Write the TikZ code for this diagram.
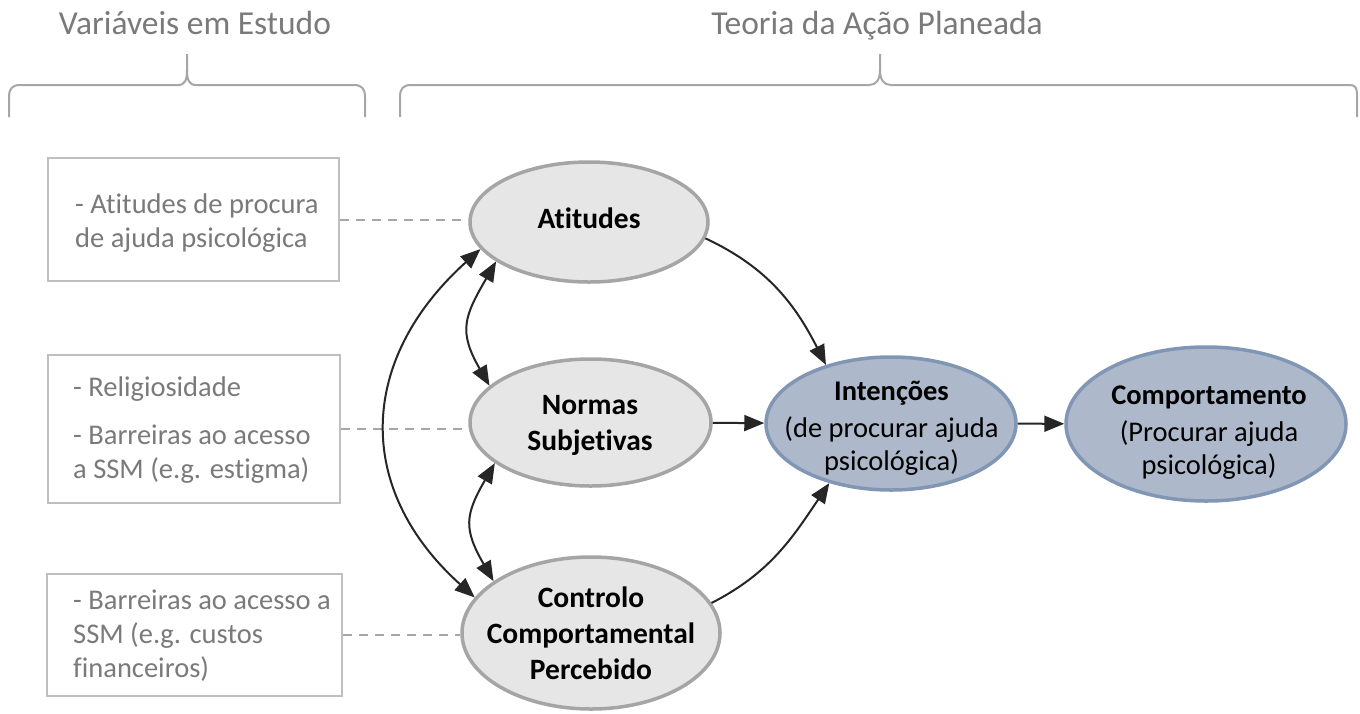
\documentclass[tikz,border=0pt]{standalone}
\usepackage{fontspec}
\setmainfont{Carlito}[Ligatures={NoCommon,NoContextual}]
\usetikzlibrary{shapes.geometric,arrows.meta}
\definecolor{txtgray}{HTML}{7A7A7A}
\definecolor{bracegray}{HTML}{A6A6A6}
\definecolor{boxgray}{HTML}{BFBFBF}
\definecolor{ellfill}{HTML}{E6E6E6}
\definecolor{elldraw}{HTML}{A5A5A5}
\definecolor{bluefill}{HTML}{ADB9CA}
\definecolor{bluedraw}{HTML}{8196B4}
\definecolor{arrowcol}{HTML}{262626}
\begin{document}
\begin{tikzpicture}[x=1pt,y=-1pt,
  headtext/.style={text=txtgray, font=\fontsize{33.5}{40}\selectfont, inner sep=0pt},
  bracepath/.style={draw=bracegray, line width=2pt},
  varbox/.style={draw=boxgray, line width=2.5pt, rectangle, inner sep=0pt},
  boxtext/.style={text=txtgray, font=\fontsize{28.5}{34}\selectfont, align=left, inner sep=0pt},
  grayell/.style={ellipse, draw=elldraw, fill=ellfill, line width=3.5pt, inner sep=0pt},
  blueell/.style={ellipse, draw=bluedraw, fill=bluefill, line width=3.5pt, inner sep=0pt},
  elltext/.style={font=\fontsize{29.5}{36}\selectfont\bfseries, align=center, inner sep=0pt},
  bluetext/.style={font=\fontsize{28.5}{33}\selectfont, align=center, inner sep=0pt},
  dashlink/.style={draw=bracegray, line width=2pt, dash pattern=on 9pt off 7pt},
  arrowlink/.style={draw=arrowcol, line width=2pt, -{Triangle[length=20pt,width=16pt]}},
  bothlink/.style={draw=arrowcol, line width=2pt, {Triangle[length=20pt,width=16pt]}-{Triangle[length=20pt,width=16pt]}}
]
\useasboundingbox (0,0) rectangle (1360,713);
\fill[white] (0,0) rectangle (1360,713);

% headings
\node[headtext, anchor=base] (hvar) at (195,34) {Variáveis em Estudo};
\node[headtext, anchor=base] (htap) at (877,34) {Teoria da Ação Planeada};

% braces
\draw[bracepath] (9,117) -- (9,97) .. controls (9,89) and (12,85) .. (20,85)
  -- (178,85) .. controls (185,85) and (187,80) .. (187,70) -- (187,54);
\draw[bracepath] (187,70) .. controls (187,80) and (189,85) .. (196,85)
  -- (354,85) .. controls (362,85) and (365,89) .. (365,97) -- (365,117);
\draw[bracepath] (400,117) -- (400,97) .. controls (400,89) and (403,85) .. (411,85)
  -- (869,85) .. controls (876,85) and (880,80) .. (880,70) -- (880,54);
\draw[bracepath] (880,70) .. controls (880,80) and (884,85) .. (891,85)
  -- (1350,85) .. controls (1355,85) and (1357,88) .. (1357,94) -- (1357,117);

% boxes
\node[varbox, minimum width=291pt, minimum height=123pt] (b1) at (193.5,219.5) {};
\node[varbox, minimum width=292pt, minimum height=148pt] (b2) at (194,429) {};
\node[varbox, minimum width=295pt, minimum height=122pt] (b3) at (194.5,635) {};
\node[boxtext, anchor=west] (b1t) at (75,223) {- Atitudes de procura\\de ajuda psicológica};
\node[boxtext, anchor=west] (b2t) at (73,430) {- Religiosidade\\[14pt]- Barreiras ao acesso\\a SSM (e.g. estigma)};
\node[boxtext, anchor=west] (b3t) at (73,636) {- Barreiras ao acesso a\\SSM (e.g. custos\\financeiros)};

% ellipses
\node[grayell, minimum width=238pt, minimum height=120pt] (att) at (589,222) {};
\node[grayell, minimum width=241pt, minimum height=127pt] (nor) at (590.5,422.5) {};
\node[grayell, minimum width=258pt, minimum height=152pt] (con) at (591,633) {};
\node[blueell, minimum width=250pt, minimum height=133pt] (int) at (891,423.5) {};
\node[blueell, minimum width=280pt, minimum height=154pt] (com) at (1206,424) {};

\node[elltext, anchor=base] (attT) at (589,228) {Atitudes};
\node[elltext] (norT) at (590,425) {Normas\\Subjetivas};
\node[elltext] (conT) at (591,633) {Controlo\\Comportamental\\Percebido};
\node[bluetext] (intT) at (891.5,428) {\textbf{Intenções}\\[4pt](de procurar ajuda\\psicológica)};
\node[bluetext] (comT) at (1209,432.5) {\textbf{Comportamento}\\[4pt](Procurar ajuda\\psicológica)};

% dashed links
\draw[dashlink] (b1.east) -- (b1.east -| att.west);
\draw[dashlink] (b2.east) -- (b2.east -| nor.west);
\draw[dashlink] (b3.east) -- (b3.east -| con.west);

% arrows
\draw[arrowlink] (att.-8) to[out=-25, in=117] (int.138);
\draw[arrowlink] (nor) -- (int);
\draw[arrowlink] (con.14) to[out=27, in=236] (int.224);
\draw[arrowlink] (int) -- (com);
\draw[bothlink] (att.203) to[out=240, in=120, looseness=1.3] (nor.160);
\draw[bothlink] (nor.203) to[out=240, in=120, looseness=1.3] (con.152);
\draw[bothlink] (att.194) to[out=222, in=138, looseness=1.2] (con.163);
\end{tikzpicture}
\end{document}
